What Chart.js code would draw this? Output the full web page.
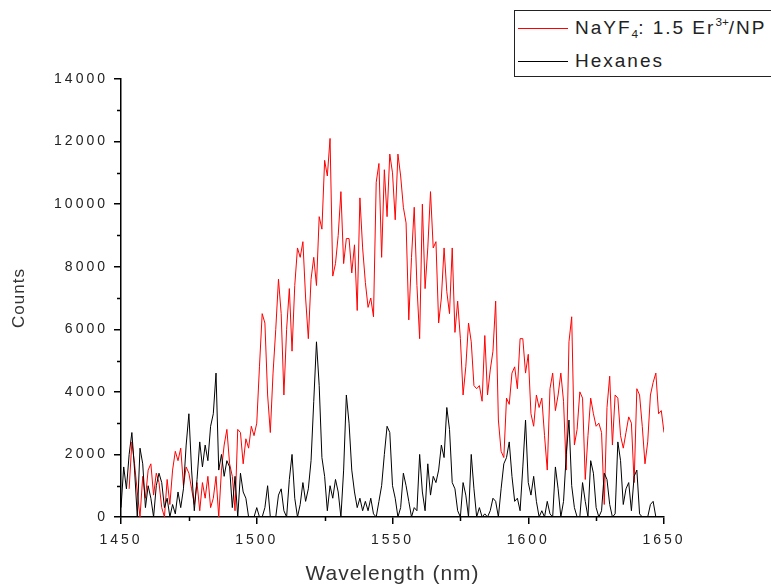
<!DOCTYPE html>
<html>
<head>
<meta charset="utf-8">
<script src="https://cdn.jsdelivr.net/npm/chart.js@4.4.1/dist/chart.umd.min.js"></script>
<style>
  html, body { margin: 0; padding: 0; background: #fff; overflow: hidden; }
  #wrap { position: relative; width: 771px; height: 587px; }
  #legend {
    position: absolute; left: 514px; top: 10px; width: 300px; height: 67px;
    border: 1.5px solid #222; box-sizing: border-box; background: #fff;
    font-family: "Liberation Sans", Arial, sans-serif; font-size: 19px; color: #222;
    letter-spacing: 2px;
  }
  .row { position: absolute; left: 0; height: 24px; display: flex; align-items: center; white-space: nowrap; line-height: 24px; }
  .swatch { width: 50px; height: 0; border-top: 1.5px solid; margin-left: 3px; margin-right: 7px; }
  sub, sup { font-size: 62%; line-height: 0; letter-spacing: 0; }
  sub { vertical-align: -4px; }
  sup { vertical-align: 8px; }
</style>
</head>
<body>
<div id="wrap">
  <canvas id="grafico" width="771" height="587"></canvas>
  <div id="legend">
    <div class="row" style="top:5px"><span class="swatch" style="border-color:#ff0000"></span><span>NaYF<sub>4</sub>: 1.5 Er<sup>3+</sup>/NP</span></div>
    <div class="row" style="top:38px"><span class="swatch" style="border-color:#000"></span><span>Hexanes</span></div>
  </div>
</div>
<script>
// espectro amostrado de 1 em 1 nm, 1450 a 1650
const inicioNm = 1450;
const passoNm = 1;

const contagensNP = [
  null, null, null, 900, 2400, 1700, 800, 0, 1300, 600,
  1500, 1700, 700, 1400, 1100, 300, 0, 1200, 400, 1500,
  2100, 1800, 2200, 1000, 1600, 1400, 900, 400, 1100, 200,
  1100, 600, 1300, 300, 600, 1300, 0, 1500, 2300, 2800,
  1700, 1300, 200, 2800, 2700, 1700, 2500, 2200, 2900, 2600,
  3000, 4800, 6500, 6200, 3900, 2700, 4600, 6000, 7600, 6500,
  3900, 6000, 7300, 5300, 7400, 8600, 8300, 8800, 7000, 5700,
  7600, 8300, 7400, 9600, 9200, 11400, 10900, 12100, 7700, 8100,
  9000, 10400, 8100, 8900, 8900, 7800, 8700, 6600, 10200, 8600,
  7500, 6700, 7000, 6400, 10700, 11300, 8300, 11100, 9600, 11600,
  11000, 9500, 11600, 10900, 9900, 9400, 6300, 8300, 9900, 7400,
  5700, 10000, 7300, 8600, 10400, 8600, 8800, 6200, 7000, 8600,
  7200, 6500, 8600, 5900, 6900, 5700, 3900, 4800, 6200, 5600,
  4200, 4100, 4200, 3700, 5800, 3900, 4700, 5300, 6900, 3100,
  2100, 1900, 3800, 3600, 4600, 4800, 4100, 5700, 5700, 4600,
  5200, 3300, 2900, 3900, 3500, 3800, 2600, 1500, 4100, 4600,
  3400, 3900, 4600, 3700, 1500, 5600, 6400, 2300, 2800, 4000,
  3800, 1200, 2600, 3800, 3300, 2900, 3000, 2700, 400, 3500,
  4500, 2300, 3900, 3800, 2600, 2200, 2700, 3200, 3000, 1100,
  4100, 3900, 2900, 1700, 2400, 3900, 4300, 4600, 3300, 3400, 2700
];

const contagensHexano = [
  300, 1600, 900, 2000, 2700, 1500, 0, 2200, 1700, 300,
  1000, 600, 0, 1000, 1400, 1100, 300, 600, 0, 400,
  100, 800, 300, 900, 2300, 3300, 1500, 200, 1200, 2400,
  1600, 2300, 1800, 2900, 3300, 4600, 1500, 2000, 1300, 1800,
  1600, 300, 1300, 0, 1400, 800, 600, 0, 0, 0,
  300, 0, 0, 300, 1000, 0, 0, 0, 700, 900,
  200, 0, 1200, 2000, 600, 0, 400, 1100, 500, 900,
  1800, 3700, 5600, 4200, 1900, 1300, 200, 1000, 600, 1200,
  800, 0, 1500, 3900, 3000, 1500, 800, 300, 600, 200,
  500, 200, 600, 100, 0, 500, 1000, 2000, 2900, 2700,
  1000, 600, 0, 300, 1400, 1000, 500, 0, 300, 200,
  2000, 800, 200, 1700, 700, 1300, 1100, 1500, 2300, 1900,
  3500, 2800, 1100, 900, 200, 0, 1100, 700, 0, 2000,
  900, 0, 300, 0, 100, 0, 200, 600, 500, 0,
  900, 1700, 1900, 2400, 1300, 500, 600, 200, 1600, 3100,
  1100, 700, 1300, 500, 0, 200, 0, 500, 100, 0,
  1600, 900, 0, 500, 2000, 3100, 1000, 300, 0, 0,
  1100, 500, 0, 1800, 1400, 300, 0, 200, 1400, 1200,
  400, 0, 100, 2400, 1800, 400, 900, 1100, 200, 1300,
  1500, 100, 0, 0, 0, 400, 500, 0, null, null, null
];

const ticksMenoresX = [1475, 1525, 1575, 1625];
const ticksMenoresY = [1000, 3000, 5000, 7000, 9000, 11000, 13000];

function montarPontos(valores) {
  return valores.map((v, i) => ({ x: inicioNm + i * passoNm, y: v }));
}

// espaçamento de letras parecido com o do Origin
const espacamentoTexto = {
  id: 'espacamentoTexto',
  beforeDraw(chart) { chart.ctx.letterSpacing = '1px'; },
  afterDatasetsDraw(chart) { chart.ctx.letterSpacing = '3px'; },
  afterDraw(chart) { chart.ctx.letterSpacing = '0px'; }
};

// ticks menores (Chart.js não tem)
const ticksMenores = {
  id: 'ticksMenores',
  afterDraw(chart) {
    const ctx = chart.ctx;
    const x = chart.scales.x;
    const y = chart.scales.y;
    const area = chart.chartArea;
    ctx.save();
    ctx.strokeStyle = '#000';
    ctx.lineWidth = 1.5;
    ctx.beginPath();
    ticksMenoresX.forEach(v => {
      const px = Math.round(x.getPixelForValue(v)) + 0.5;
      ctx.moveTo(px, area.bottom);
      ctx.lineTo(px, area.bottom + 4);
    });
    ticksMenoresY.forEach(v => {
      const py = Math.round(y.getPixelForValue(v)) + 0.5;
      ctx.moveTo(area.left, py);
      ctx.lineTo(area.left - 4, py);
    });
    ctx.stroke();
    ctx.restore();
  }
};

const ctx = document.getElementById('grafico').getContext('2d');
const grafico = new Chart(ctx, {
  type: 'line',
  data: {
    datasets: [{
      label: 'NaYF4: 1.5 Er3+/NP',
      data: montarPontos(contagensNP),
      borderColor: '#ff0000',
      borderWidth: 1,
      pointRadius: 0,
      tension: 0,
      order: 1
    }, {
      label: 'Hexanes',
      data: montarPontos(contagensHexano),
      borderColor: '#000000',
      borderWidth: 1,
      pointRadius: 0,
      tension: 0,
      order: 0
    }]
  },
  options: {
    responsive: false,
    animation: false,
    devicePixelRatio: 1,
    layout: { padding: { top: 79, right: 107, left: 0, bottom: 0 } },
    plugins: {
      legend: { display: false },
      tooltip: { enabled: false }
    },
    scales: {
      x: {
        type: 'linear',
        min: 1450,
        max: 1650,
        afterFit(scale) { scale.height = 70; },
        border: { color: '#000', width: 1.5 },
        grid: { drawOnChartArea: false, tickLength: 7, color: '#000', lineWidth: 1.5 },
        ticks: {
          stepSize: 50,
          z: 1,
          padding: 8,
          color: '#222',
          font: { family: 'Liberation Sans, Arial', size: 14 },
          callback: v => String(v)
        },
        title: {
          display: true,
          text: 'Wavelength (nm)',
          color: '#333',
          font: { family: 'Liberation Sans, Arial', size: 21 },
          padding: { top: 0, bottom: 0 }
        }
      },
      y: {
        min: 0,
        max: 14000,
        afterFit(scale) { scale.width = 121; },
        border: { color: '#000', width: 1.5 },
        grid: { drawOnChartArea: false, tickLength: 7, color: '#000', lineWidth: 1.5 },
        ticks: {
          stepSize: 2000,
          z: 1,
          padding: 6,
          color: '#222',
          font: { family: 'Liberation Sans, Arial', size: 14 },
          callback: v => String(v)
        },
        title: {
          display: true,
          text: 'Counts',
          color: '#333',
          font: { family: 'Liberation Sans, Arial', size: 17 },
          padding: { top: 9, bottom: 0 }
        }
      }
    }
  },
  plugins: [espacamentoTexto, ticksMenores]
});
</script>
</body>
</html>
